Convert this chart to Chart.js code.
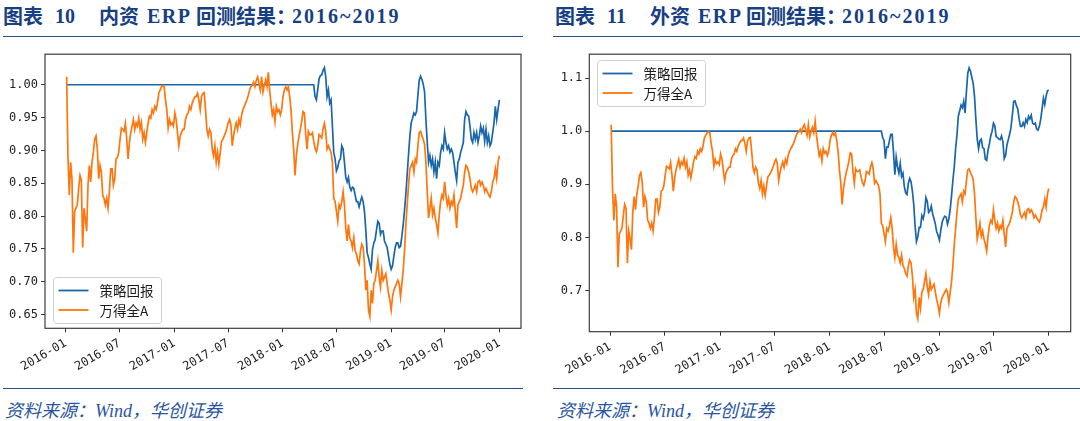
<!DOCTYPE html>
<html>
<head>
<meta charset="utf-8">
<script src="https://cdn.jsdelivr.net/npm/chart.js@4.4.1/dist/chart.umd.min.js"></script>
<style>
  body { margin: 0; width: 1080px; height: 421px; background: #fff; position: relative; overflow: hidden; }
  .ttl { position: absolute; top: 4px; height: 24px; color: #173f82; font-weight: bold; }
  .ttl span { position: absolute; top: 0; white-space: nowrap; font: bold 20px "Noto Sans CJK SC", sans-serif; line-height: 24px; }
  .ttl span.lat { font-family: "Liberation Serif", "Noto Sans CJK SC", serif; }
  .rule { position: absolute; height: 0; border-top: 1.5px solid #27508f; }
  .plot { position: absolute; top: 44px; width: 540px; height: 341px; }
  .src { position: absolute; top: 399px; font: italic 18px "Liberation Serif", "Noto Sans CJK SC", serif; color: #2a55a0; white-space: nowrap; line-height: 24px; }
</style>
</head>
<body>

<div class="ttl" style="left:3px">
  <span style="left:0">图表</span><span class="lat" style="left:52px">10</span><span style="left:96px">内资</span><span class="lat" style="left:144px;letter-spacing:1.5px">ERP</span><span style="left:193px">回测结果：</span><span class="lat" style="left:289px;letter-spacing:2px">2016~2019</span>
</div>
<div class="ttl" style="left:555px">
  <span style="left:0">图表</span><span class="lat" style="left:52px">11</span><span style="left:95px">外资</span><span class="lat" style="left:143px;letter-spacing:1.5px">ERP</span><span style="left:191px">回测结果：</span><span class="lat" style="left:287px;letter-spacing:2px">2016~2019</span>
</div>
<div class="rule" style="left:3px;top:36px;width:520px"></div>
<div class="rule" style="left:553px;top:36px;width:527px"></div>

<div class="plot" style="left:0"><canvas id="domChart" width="540" height="341"></canvas></div>
<div class="plot" style="left:540px"><canvas id="forChart" width="540" height="341"></canvas></div>

<div class="rule" style="left:3px;top:388px;width:520px"></div>
<div class="rule" style="left:553px;top:388px;width:527px"></div>
<div class="src" style="left:5px">资料来源：Wind，华创证券</div>
<div class="src" style="left:557px">资料来源：Wind，华创证券</div>

<script>
// --- DATA (one sample every 4.5 days from 2016-01-04) ---
const START_DATE = '2016-01-04';
const STEP_DAYS = 4.5;
const seriesNames = ['策略回报', '万得全A'];
const xTickLabels = ['2016-01', '2016-07', '2017-01', '2017-07', '2018-01', '2018-07', '2019-01', '2019-07', '2020-01'];
const domYTicks = [0.65, 0.70, 0.75, 0.80, 0.85, 0.90, 0.95, 1.00];
const forYTicks = [0.7, 0.8, 0.9, 1.0, 1.1];

// 万得全A, normalised (same in both panels)
const wdaVals = [
  1.012, 0.890, 0.832, 0.882, 0.857, 0.744, 0.807, 0.812, 0.817, 0.842,
  0.862, 0.855, 0.752, 0.812, 0.797, 0.777, 0.847, 0.877, 0.852, 0.882,
  0.897, 0.917, 0.922, 0.902, 0.857, 0.877, 0.867, 0.832, 0.827, 0.817,
  0.827, 0.812, 0.837, 0.872, 0.872, 0.847, 0.857, 0.887, 0.889, 0.897,
  0.917, 0.934, 0.932, 0.929, 0.941, 0.917, 0.887, 0.912, 0.927, 0.937,
  0.947, 0.932, 0.942, 0.937, 0.949, 0.932, 0.942, 0.917, 0.927, 0.912,
  0.927, 0.942, 0.952, 0.949, 0.962, 0.957, 0.967, 0.962, 0.972, 0.987,
  0.992, 0.997, 0.999, 0.997, 0.977, 0.962, 0.934, 0.947, 0.939, 0.942,
  0.937, 0.957, 0.947, 0.927, 0.907, 0.922, 0.927, 0.932, 0.932, 0.947,
  0.954, 0.957, 0.967, 0.962, 0.972, 0.977, 0.982, 0.982, 0.987, 0.977,
  0.962, 0.982, 0.987, 0.988, 0.962, 0.932, 0.922, 0.932, 0.927, 0.902,
  0.892, 0.907, 0.882, 0.897, 0.879, 0.897, 0.914, 0.917, 0.922, 0.927,
  0.934, 0.942, 0.947, 0.939, 0.907, 0.922, 0.934, 0.942, 0.932, 0.947,
  0.939, 0.954, 0.962, 0.967, 0.972, 0.977, 0.984, 0.992, 0.997, 0.999,
  1.004, 0.997, 1.007, 1.012, 1.002, 0.992, 1.012, 0.989, 0.999, 1.007,
  0.997, 1.019, 0.992, 0.972, 0.954, 0.962, 0.944, 0.967, 0.959, 0.962,
  0.954, 0.962, 0.982, 0.992, 0.997, 0.992, 0.997, 0.982, 0.962, 0.927,
  0.902, 0.862, 0.892, 0.909, 0.922, 0.932, 0.944, 0.959, 0.957, 0.924,
  0.902, 0.929, 0.924, 0.924, 0.927, 0.914, 0.903, 0.898, 0.907, 0.924,
  0.922, 0.919, 0.933, 0.941, 0.929, 0.902, 0.907, 0.902,
  0.897, 0.882, 0.827, 0.822, 0.807, 0.792, 0.817, 0.812, 0.822, 0.837,
  0.817, 0.782, 0.762, 0.787, 0.767, 0.762, 0.752, 0.767, 0.747, 0.742,
  0.732, 0.727, 0.747, 0.757, 0.752, 0.727, 0.687, 0.702, 0.657, 0.647,
  0.687, 0.667, 0.697, 0.702, 0.717, 0.732, 0.707, 0.692, 0.717, 0.702,
  0.707, 0.712, 0.697, 0.682, 0.672, 0.657, 0.677, 0.687, 0.692, 0.697,
  0.702, 0.697, 0.677, 0.697, 0.717, 0.747, 0.787, 0.817, 0.847, 0.872,
  0.877, 0.882, 0.867, 0.887, 0.882, 0.907, 0.927, 0.929, 0.922, 0.917,
  0.909, 0.882, 0.837, 0.797, 0.812, 0.827, 0.802, 0.812, 0.797, 0.787,
  0.774, 0.802, 0.822, 0.832, 0.827, 0.852, 0.832, 0.817, 0.827, 0.812,
  0.822, 0.817, 0.832, 0.807, 0.782, 0.817, 0.822, 0.827, 0.837, 0.847,
  0.867, 0.877, 0.874, 0.867, 0.857, 0.842, 0.837, 0.842, 0.847, 0.837,
  0.852, 0.854, 0.847, 0.852, 0.847, 0.837, 0.842, 0.837, 0.832, 0.829,
  0.837, 0.852, 0.857, 0.872, 0.857, 0.882, 0.892
];

// strategy: sits at 1.00 until the hold sample, then moves with the market
const holdLevel = 1.0;
const domHoldUntil = 185;
const domVals = [
  0.982, 0.977, 0.992, 1.009, 1.014, 1.015, 1.022, 1.026, 1.012, 0.982, 0.992, 0.972,
  0.977, 0.937, 0.897, 0.887, 0.869, 0.874, 0.884, 0.887, 0.907, 0.902,
  0.882, 0.859, 0.852, 0.859, 0.844, 0.839, 0.844, 0.842, 0.832, 0.822,
  0.822, 0.814, 0.822, 0.829, 0.822, 0.807, 0.779, 0.744, 0.737, 0.727,
  0.719, 0.749, 0.759, 0.764, 0.779, 0.792, 0.789, 0.772, 0.777, 0.777,
  0.762, 0.757, 0.752, 0.739, 0.727, 0.719, 0.724, 0.739, 0.752, 0.759,
  0.759, 0.752, 0.754, 0.769, 0.787, 0.809, 0.834, 0.864, 0.894, 0.922,
  0.942, 0.949, 0.957, 0.954, 0.959, 0.984, 1.007, 1.013, 1.008, 1.001,
  0.989, 0.947, 0.912, 0.882, 0.892, 0.877, 0.887, 0.867, 0.882, 0.857,
  0.882, 0.877, 0.897, 0.907, 0.902, 0.927, 0.912, 0.902, 0.907, 0.897,
  0.902, 0.897, 0.882, 0.867, 0.854, 0.882, 0.887, 0.897, 0.904, 0.912,
  0.947, 0.959, 0.954, 0.952, 0.937, 0.917, 0.912, 0.927, 0.917, 0.927,
  0.912, 0.922, 0.937, 0.927, 0.934, 0.914, 0.932, 0.912, 0.922, 0.907,
  0.912, 0.927, 0.942, 0.967, 0.947, 0.962, 0.977
];
const forHoldUntil = 200;
const forVals = [
  0.988, 0.982, 0.948, 0.970, 0.970, 0.982, 0.994, 0.994, 0.961, 0.918,
  0.951, 0.933, 0.921, 0.939, 0.915, 0.921, 0.896, 0.884, 0.881, 0.902,
  0.911, 0.905, 0.887, 0.862, 0.822, 0.792, 0.801, 0.819, 0.819, 0.841,
  0.835, 0.847, 0.875, 0.868, 0.847, 0.850, 0.859, 0.844, 0.835, 0.825,
  0.810, 0.804, 0.795, 0.813, 0.828, 0.836, 0.840, 0.838, 0.825, 0.835,
  0.853, 0.879, 0.908, 0.933, 0.967, 0.993, 1.028, 1.038, 1.049, 1.044,
  1.056, 1.034, 1.074, 1.109, 1.119, 1.113, 1.101, 1.090, 1.065, 1.022,
  0.985, 0.967, 0.982, 0.985, 0.969, 0.967, 0.947, 0.945, 0.964, 0.976,
  0.991, 1.000, 1.015, 1.010, 0.990, 0.988, 0.985, 0.984, 0.991, 0.980,
  0.948, 0.954, 0.974, 0.984, 0.994, 1.007, 1.030, 1.056, 1.057, 1.048,
  1.042, 1.023, 1.009, 1.009, 1.016, 1.009, 1.022, 1.016, 1.028, 1.023,
  1.030, 1.015, 1.013, 1.015, 1.004, 1.002, 1.009, 1.022, 1.042, 1.062,
  1.050, 1.066, 1.076, 1.077
];

const BLUE = '#1a66ad';
const ORANGE = '#ff760d';
const DAY_MS = 86400000;
const t0 = Date.parse(START_DATE + 'T00:00:00Z');
const xAt = i => t0 + i * STEP_DAYS * DAY_MS;
const tickValue = lbl => Date.UTC(+lbl.slice(0, 4), +lbl.slice(5, 7) - 1, 1);

function strategyPoints(holdUntil, vals) {
  const pts = [{ x: xAt(0), y: holdLevel }, { x: xAt(holdUntil), y: holdLevel }];
  vals.forEach((v, j) => pts.push({ x: xAt(holdUntil + 1 + j), y: v }));
  return pts;
}

// matplotlib style closed frame
const framePlugin = {
  id: 'frame',
  afterDatasetsDraw(chart) {
    const { ctx, chartArea: a } = chart;
    ctx.save();
    ctx.strokeStyle = '#3d3d3d';
    ctx.lineWidth = 1.2;
    ctx.strokeRect(a.left, a.top, a.right - a.left, a.bottom - a.top);
    ctx.restore();
  }
};

// legend box drawn inside the plot area
const boxLegend = {
  id: 'boxLegend',
  afterDraw(chart, args, opts) {
    const { ctx, chartArea: a } = chart;
    const w = 108, h = 46;
    const x = Math.round(a.left + 7.5) + 0.5;
    const y = Math.round(opts.where === 'lower' ? a.bottom - 5.5 - h : a.top + 6) + 0.5;
    ctx.save();
    ctx.fillStyle = 'rgba(255,255,255,0.85)';
    ctx.strokeStyle = '#d0d0d0';
    ctx.lineWidth = 1;
    ctx.beginPath();
    if (ctx.roundRect) ctx.roundRect(x, y, w, h, 3); else ctx.rect(x, y, w, h);
    ctx.fill();
    ctx.stroke();
    chart.data.datasets.forEach((ds, i) => {
      const cy = y + 13 + i * 19.5;
      ctx.strokeStyle = ds.borderColor;
      ctx.lineWidth = 1.8;
      ctx.beginPath();
      ctx.moveTo(x + 5, cy);
      ctx.lineTo(x + 35, cy);
      ctx.stroke();
      ctx.fillStyle = '#1a1a1a';
      ctx.font = '13.5px "Noto Sans CJK SC"';
      ctx.textBaseline = 'middle';
      ctx.fillText(ds.label, x + 46, cy + 0.5);
    });
    ctx.restore();
  }
};

function makeChart(id, cfg) {
  const xMin = xAt(0), xMax = xAt(wdaVals.length - 1);
  const pad = (xMax - xMin) * 0.05;
  const tickFont = { family: '"DejaVu Sans Mono", monospace', size: 12 };
  const tickGrid = { drawOnChartArea: false, drawTicks: true, tickLength: 4, tickColor: '#333', lineWidth: 1 };
  return new Chart(document.getElementById(id), {
    type: 'line',
    data: {
      datasets: [
        { label: seriesNames[0], data: cfg.strategy, borderColor: BLUE, borderWidth: 1.7, pointRadius: 0, order: 2 },
        { label: seriesNames[1], data: wdaVals.map((v, i) => ({ x: xAt(i), y: v })), borderColor: ORANGE, borderWidth: 1.7, pointRadius: 0, order: 1 }
      ]
    },
    options: {
      responsive: false,
      animation: false,
      layout: { padding: cfg.padding },
      plugins: { legend: { display: false }, tooltip: { enabled: false }, boxLegend: { where: cfg.legendAt } },
      scales: {
        x: {
          type: 'linear', min: xMin - pad, max: xMax + pad,
          afterBuildTicks: s => { s.ticks = xTickLabels.map(l => ({ value: tickValue(l) })); },
          afterFit: s => { s.height = cfg.xAxisHeight; },
          ticks: { autoSkip: false, minRotation: 30, maxRotation: 30, padding: 4, color: '#222', font: tickFont,
                   callback: (v, i) => xTickLabels[i] },
          grid: tickGrid, border: { display: false }
        },
        y: {
          min: cfg.yMin, max: cfg.yMax,
          afterBuildTicks: s => { s.ticks = cfg.yTicks.map(v => ({ value: v })); },
          afterFit: s => { s.width = cfg.yAxisWidth; },
          ticks: { padding: 3, color: '#222', font: tickFont, callback: v => v.toFixed(cfg.decimals) },
          grid: tickGrid, border: { display: false }
        }
      }
    },
    plugins: [framePlugin, boxLegend]
  });
}

makeChart('domChart', {
  strategy: strategyPoints(domHoldUntil, domVals),
  yMin: 0.629, yMax: 1.0465, yTicks: domYTicks, decimals: 2,
  padding: { top: 6, right: 19, left: 0, bottom: 0 },
  yAxisWidth: 45, xAxisHeight: 56.7, legendAt: 'lower'
});
makeChart('forChart', {
  strategy: strategyPoints(forHoldUntil, forVals),
  yMin: 0.6225, yMax: 1.1448, yTicks: forYTicks, decimals: 1,
  padding: { top: 5, right: 9.3, left: 0, bottom: 0 },
  yAxisWidth: 49.3, xAxisHeight: 53.3, legendAt: 'upper'
});
</script>
</body>
</html>
